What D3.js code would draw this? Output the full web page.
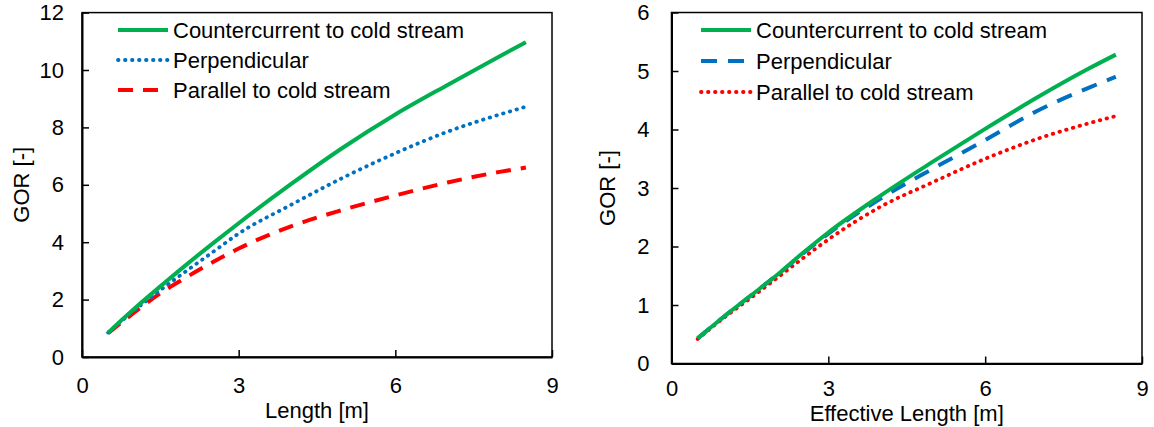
<!DOCTYPE html>
<html>
<head>
<meta charset="utf-8">
<script src="https://cdn.jsdelivr.net/npm/d3@7"></script>
<style>
  body { margin: 0; background: #fff; }
  svg { font-family: "Liberation Sans", Arial, sans-serif; }
  .axis text { font-size: 22px; fill: #000; }
  .axis .domain { stroke: #000; stroke-width: 2; }
  .axis .tick line { stroke: #000; stroke-width: 1.5; }
  .axistitle, .legtext { font-size: 22px; fill: #000; }
</style>
</head>
<body>
<div id="chart"></div>
<script>

// data
let lengthX = [0.5, 1, 1.5, 2, 2.5, 3, 4, 5, 6, 7, 8, 8.5];

// left panel: GOR vs length
let leftCounter = [0.85, 1.68, 2.46, 3.22, 3.95, 4.66, 6.02, 7.30, 8.45, 9.48, 10.48, 10.97];
let leftPerp = [0.85, 1.62, 2.33, 3.00, 3.65, 4.30, 5.30, 6.25, 7.10, 7.85, 8.45, 8.72];
let leftParallel = [0.83, 1.55, 2.22, 2.78, 3.30, 3.78, 4.55, 5.13, 5.63, 6.08, 6.45, 6.60];

// right panel: GOR vs effective length
let rightCounter = [0.43, 0.80, 1.15, 1.50, 1.88, 2.24, 2.87, 3.45, 4.01, 4.55, 5.05, 5.28];
let rightPerp = [0.43, 0.80, 1.15, 1.50, 1.87, 2.22, 2.82, 3.33, 3.82, 4.32, 4.72, 4.90];
let rightParallel = [0.42, 0.78, 1.11, 1.45, 1.79, 2.12, 2.68, 3.10, 3.50, 3.84, 4.11, 4.23];

let xTicks = [0, 3, 6, 9];
let leftYTicks = [0, 2, 4, 6, 8, 10, 12];
let rightYTicks = [0, 1, 2, 3, 4, 5, 6];
let seriesNames = ["Countercurrent to cold stream", "Perpendicular", "Parallel to cold stream"];

let green = "#00b050", blue = "#0070c0", red = "#ff0000";
let solid = {dash: null, width: 4, cap: "butt"};
let dotted = {dash: "0.5,6.5", width: 3.8, cap: "round"};
let dashed = {dash: "15,10", width: 4, cap: "butt"};

let svg = d3.select("#chart").append("svg")
	.attr("width", 1154)
	.attr("height", 427);

function drawPanel(cfg) {
	let g = svg.append("g");

	let x = d3.scaleLinear().domain([0, 9]).range([cfg.left, cfg.right]);
	let y = d3.scaleLinear().domain([0, cfg.yMax]).range([cfg.bottom, cfg.top]);

	// frame
	g.append("rect")
		.attr("x", cfg.left)
		.attr("y", cfg.top)
		.attr("width", cfg.right - cfg.left)
		.attr("height", cfg.bottom - cfg.top)
		.attr("fill", "none")
		.attr("stroke", "#000")
		.attr("stroke-width", 1.5);

	g.append("g")
		.attr("class", "axis")
		.attr("transform", "translate(0," + cfg.bottom + ")")
		.call(d3.axisBottom(x).tickValues(xTicks).tickFormat(d3.format("d"))
			.tickSizeInner(-7).tickSizeOuter(0).tickPadding(cfg.xPad));

	g.append("g")
		.attr("class", "axis")
		.attr("transform", "translate(" + cfg.left + ",0)")
		.call(d3.axisLeft(y).tickValues(cfg.yTicks).tickFormat(d3.format("d"))
			.tickSizeInner(-7).tickSizeOuter(0).tickPadding(cfg.yPad));

	g.selectAll(".axis").attr("font-family", null).attr("font-size", null);

	let line = d3.line()
		.x((d, i) => x(lengthX[i]))
		.y(d => y(d))
		.curve(d3.curveMonotoneX);

	// draw in reverse order so green ends on top
	cfg.series.slice().reverse().forEach(s => {
		g.append("path")
			.datum(s.values)
			.attr("d", line)
			.attr("fill", "none")
			.attr("stroke", s.color)
			.attr("stroke-width", s.style.width)
			.attr("stroke-linecap", s.style.cap)
			.attr("stroke-dasharray", s.style.dash);
	});

	// legend
	cfg.series.forEach((s, i) => {
		let ly = cfg.legY + i * cfg.legStep;
		g.append("line")
			.attr("x1", cfg.legX)
			.attr("x2", cfg.legX + 50)
			.attr("y1", ly)
			.attr("y2", ly)
			.attr("stroke", s.color)
			.attr("stroke-width", s.style.width)
			.attr("stroke-linecap", s.style.cap)
			.attr("stroke-dasharray", s.style.dash);
		g.append("text")
			.attr("class", "legtext")
			.attr("x", cfg.legX + 55)
			.attr("y", ly)
			.attr("dy", "0.35em")
			.text(seriesNames[i]);
	});

	// axis titles
	g.append("text")
		.attr("class", "axistitle")
		.attr("x", (cfg.left + cfg.right) / 2)
		.attr("y", cfg.xTitleY)
		.style("text-anchor", "middle")
		.text(cfg.xTitle);

	g.append("text")
		.attr("class", "axistitle")
		.attr("transform", "translate(" + cfg.yTitleX + "," + (cfg.top + cfg.bottom) / 2 + ") rotate(-90)")
		.attr("dy", "0.35em")
		.style("text-anchor", "middle")
		.text("GOR [-]");
}

drawPanel({
	left: 82, right: 552, top: 12.6, bottom: 357,
	yMax: 12, yTicks: leftYTicks, xPad: 20, yPad: 18,
	xTitle: "Length [m]", xTitleY: 418, yTitleX: 21,
	legX: 118, legY: 30, legStep: 30,
	series: [
		{values: leftCounter, color: green, style: solid},
		{values: leftPerp, color: blue, style: dotted},
		{values: leftParallel, color: red, style: dashed}
	]
});

drawPanel({
	left: 671.5, right: 1142, top: 12.5, bottom: 363.5,
	yMax: 6, yTicks: rightYTicks, xPad: 16.5, yPad: 22,
	xTitle: "Effective Length [m]", xTitleY: 421, yTitleX: 607,
	legX: 701, legY: 30, legStep: 31,
	series: [
		{values: rightCounter, color: green, style: solid},
		{values: rightPerp, color: blue, style: {dash: "16,11", width: 4, cap: "butt"}},
		{values: rightParallel, color: red, style: dotted}
	]
});

</script>
</body>
</html>
